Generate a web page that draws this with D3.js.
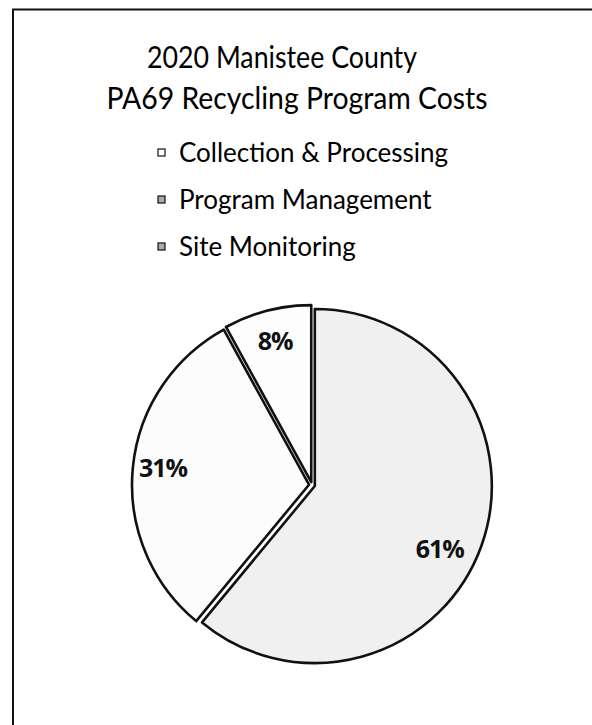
<!DOCTYPE html>
<html><head><meta charset="utf-8">
<script src="https://cdn.jsdelivr.net/npm/d3@7"></script>
<style>html,body{margin:0;padding:0;background:#fff;}svg{display:block;}</style>
</head><body>
<svg id="chart" width="592" height="725"></svg>
<script>
const titleLines = ["2020 Manistee County", "PA69 Recycling Program Costs"];
const categories = ["Collection & Processing", "Program Management", "Site Monitoring"];
const values = [61, 31, 8];
const labels = ["61%", "31%", "8%"];
const fills = ["#f0f0f0", "#fcfcfc", "#fdfdfd"];

const svg = d3.select("#chart");
// frame (cropped border)
svg.append("path").attr("d", "M13,725 V9.5 H592").attr("fill", "none").attr("stroke", "#111").attr("stroke-width", 2);

// title
const titleX = [282, 297], titleW = [270, 381];
svg.selectAll("text.title").data(titleLines).join("text")
  .attr("class", "title")
  .attr("x", (d, i) => titleX[i] - titleW[i] / 2)
  .attr("y", (d, i) => 68 + i * 41)
  .attr("textLength", (d, i) => titleW[i])
  .attr("lengthAdjust", "spacingAndGlyphs")
  .style("font-family", "Lato, 'Open Sans', sans-serif")
  .style("font-size", "30px")
  .attr("fill", "#000")
  .text(d => d);

// legend
const leg = svg.append("g");
const li = leg.selectAll("g").data(categories).join("g")
  .attr("transform", (d, i) => `translate(158, ${162 + i * 47})`);
li.append("rect").attr("x", 0).attr("y", -13).attr("width", 7).attr("height", 7)
  .attr("fill", (d, i) => i === 0 ? "#fff" : "#aaa").attr("stroke", "#111").attr("stroke-width", 1.2);
li.append("text").attr("x", 21).attr("y", 0)
  .style("font-family", "Lato, 'Open Sans', sans-serif")
  .style("font-size", "26px").attr("fill", "#000").text(d => d);

// pie
const cx = 312, cy = 485, r = 177;
const pie = d3.pie().sort(null).value(d => d)(values);
const arc = d3.arc().innerRadius(0).outerRadius(r);
const g = svg.append("g").attr("transform", `translate(${cx},${cy})`);
const off = 3;
const slices = g.selectAll("g.slice").data(pie).join("g").attr("class", "slice")
  .attr("transform", d => {
    const a = (d.startAngle + d.endAngle) / 2;
    return `translate(${Math.sin(a) * off},${-Math.cos(a) * off})`;
  });
slices.append("path").attr("d", arc)
  .attr("fill", (d, i) => fills[i])
  .attr("stroke", "#111").attr("stroke-width", 2.6).attr("stroke-linejoin", "round");

const labelR = [0.79, 0.83, 0.82];
const labelShift = [0.12, 0.02, 0];
slices.append("text")
  .attr("transform", (d, i) => {
    const a = (d.startAngle + d.endAngle) / 2 + labelShift[i];
    return `translate(${Math.sin(a) * r * labelR[i]},${-Math.cos(a) * r * labelR[i]})`;
  })
  .attr("text-anchor", "middle").attr("dy", "0.35em")
  .style("font-family", "'Open Sans', sans-serif").style("font-weight", "bold")
  .style("font-size", "25px").attr("fill", "#111")
  .style("letter-spacing", "-1px")
  .text((d, i) => labels[i]);
</script>
</body></html>
